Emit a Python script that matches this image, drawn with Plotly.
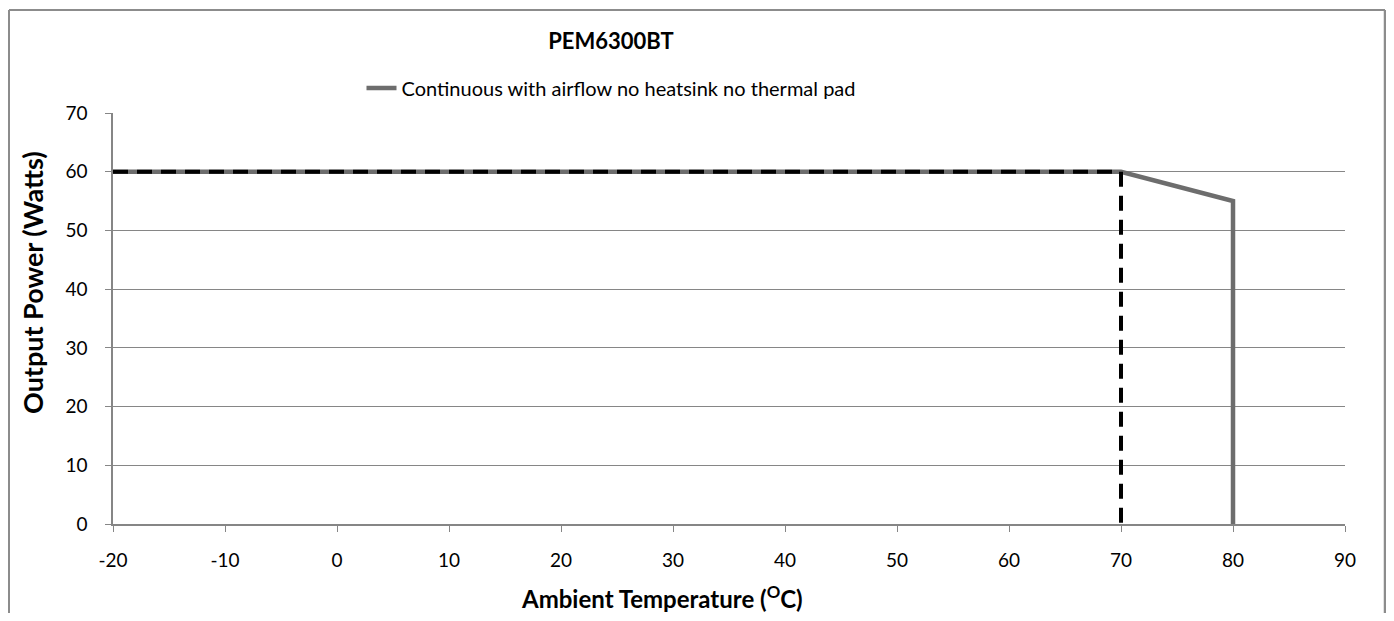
import plotly.graph_objects as go

# Data
temp_curve = [-20, 70, 80, 80]
power_curve = [60, 60, 55, 0]
temp_limit = [-20, 70, 70]
power_limit = [60, 60, 0]
series_name = "Continuous with airflow no heatsink no thermal pad"
x_ticks = [-20, -10, 0, 10, 20, 30, 40, 50, 60, 70, 80, 90]
x_tick_labels = ["-20", "-10", "0", "10", "20", "30", "40", "50", "60", "70", "80", "90"]
y_ticks = [0, 10, 20, 30, 40, 50, 60, 70]
title_text = "PEM6300BT"
x_title = "Ambient Temperature (<sup>O</sup>C)"
y_title = "Output Power (Watts)"

FONT = "Lato, 'Open Sans', sans-serif"
AX = "#868686"
BORDER = "#8c8c8c"

# page has an 8px body margin; plot area spans page px 113..1345 x 113..524
PX0, PX1, PY0, PY1 = 113, 1345, 113, 524
PW, PH = PX1 - PX0, PY1 - PY0
FIG_W, FIG_H = 1386, 605


def px(p):
    return (p - PX0) / PW


def py(p):
    return (PY1 - p) / PH


fig = go.Figure()
fig.add_trace(go.Scatter(
    x=temp_curve, y=power_curve, mode="lines", name=series_name,
    line=dict(color="#6d6d6d", width=4.5), showlegend=True,
))
fig.add_trace(go.Scatter(
    x=temp_limit, y=power_limit, mode="lines", showlegend=False,
    line=dict(color="#000000", width=4, dash="15px,9px"),
))

fig.update_layout(
    width=FIG_W, height=FIG_H,
    paper_bgcolor="white", plot_bgcolor="white",
    margin=dict(l=PX0 - 8, r=8 + FIG_W - PX1, t=PY0 - 8, b=8 + FIG_H - PY1),
    font=dict(family=FONT, color="#000000", size=19),
    title=dict(text="<b>" + title_text + "</b>", x=px(611), xref="paper", xanchor="center",
               y=1 - (41 - 8) / FIG_H, yref="container", yanchor="middle",
               font=dict(size=22, family=FONT, color="#000000")),
    legend=dict(orientation="h", x=px(611), xanchor="center", y=py(88), yanchor="middle",
                font=dict(size=20, family=FONT, color="#000000"),
                bgcolor="rgba(0,0,0,0)", itemwidth=30),
    xaxis=dict(range=[-20, 90], tickvals=x_ticks, ticktext=x_tick_labels,
               ticks="outside", ticklen=6, ticklabelstandoff=12,
               tickcolor=AX, showline=True, linecolor=AX, linewidth=1.5,
               showgrid=False, zeroline=False,
               tickfont=dict(size=19)),
    yaxis=dict(range=[0, 70], tickvals=y_ticks, ticks="outside", ticklen=6,
               ticklabelstandoff=14,
               tickcolor=AX, showline=True, linecolor=AX, linewidth=1.5,
               showgrid=True, gridcolor=AX, gridwidth=1, zeroline=False,
               tickfont=dict(size=19)),
    annotations=[
        dict(text="<b>" + x_title + "</b>", xref="paper", yref="paper",
             x=px(662), y=py(597), xanchor="center", yanchor="middle",
             showarrow=False, font=dict(size=24, family=FONT, color="#000000")),
        dict(text="<b>" + y_title + "</b>", xref="paper", yref="paper",
             x=px(32), y=py(283), xanchor="center", yanchor="middle", textangle=-90,
             showarrow=False, font=dict(size=27, family=FONT, color="#000000")),
    ],
    shapes=[
        dict(type="line", xref="paper", yref="paper",
             x0=px(9), x1=px(1385), y0=py(10), y1=py(10),
             line=dict(color=BORDER, width=2)),
        dict(type="line", xref="paper", yref="paper",
             x0=px(9), x1=px(9), y0=py(10), y1=py(640),
             line=dict(color=BORDER, width=2)),
        dict(type="line", xref="paper", yref="paper",
             x0=px(1385), x1=px(1385), y0=py(10), y1=py(640),
             line=dict(color=BORDER, width=2.5)),
    ],
)

fig.write_html("out.html")
